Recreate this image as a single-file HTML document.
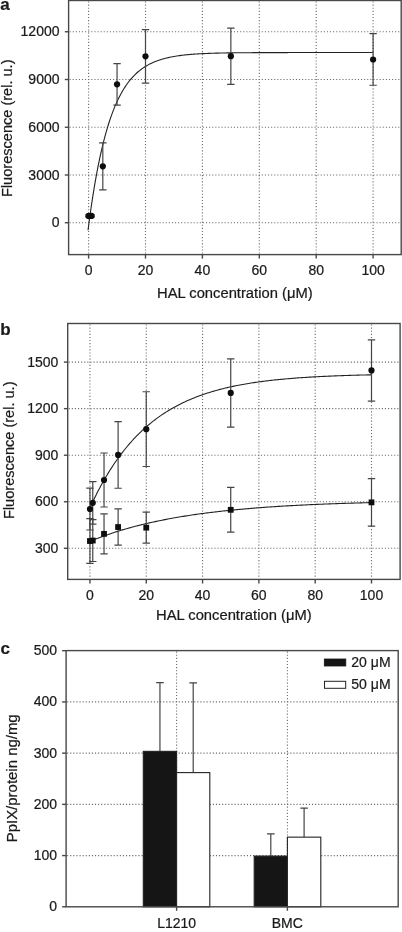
<!DOCTYPE html>
<html><head><meta charset="utf-8"><style>
html,body{margin:0;padding:0;background:#fff;width:402px;height:932px;overflow:hidden}
svg{display:block}
text{font-family:"Liberation Sans", Arial, sans-serif;fill:#1a1a1a;stroke:#1a1a1a;stroke-width:0.22px}
.g{stroke:#6a6a6a;stroke-width:1.1;stroke-dasharray:1.1 2;fill:none}
.t{stroke:#484848;stroke-width:1.4}
.e{stroke:#454545;stroke-width:1.2;fill:none}
.c{stroke:#222;stroke-width:1.1;fill:none}
.p{fill:#0d0d0d}
</style></head><body>
<svg width="402" height="932" viewBox="0 0 402 932">
<line x1="69.6" y1="222.75" x2="400.2" y2="222.75" class="g"/>
<line x1="69.6" y1="175" x2="400.2" y2="175" class="g"/>
<line x1="69.6" y1="127.25" x2="400.2" y2="127.25" class="g"/>
<line x1="69.6" y1="79.5" x2="400.2" y2="79.5" class="g"/>
<line x1="69.6" y1="31.75" x2="400.2" y2="31.75" class="g"/>
<line x1="88.6" y1="1.5" x2="88.6" y2="253.6" class="g"/>
<line x1="145.5" y1="1.5" x2="145.5" y2="253.6" class="g"/>
<line x1="202.4" y1="1.5" x2="202.4" y2="253.6" class="g"/>
<line x1="259.3" y1="1.5" x2="259.3" y2="253.6" class="g"/>
<line x1="316.2" y1="1.5" x2="316.2" y2="253.6" class="g"/>
<line x1="373.1" y1="1.5" x2="373.1" y2="253.6" class="g"/>
<polyline points="88.03,230.20 89.46,219.26 90.90,209.00 92.33,199.36 93.76,190.32 95.19,181.84 96.63,173.88 98.06,166.40 99.49,159.39 100.92,152.81 102.36,146.64 103.79,140.84 105.22,135.41 106.65,130.30 108.09,125.52 109.52,121.02 110.95,116.81 112.38,112.85 113.82,109.14 115.25,105.65 116.68,102.38 118.11,99.31 119.55,96.43 120.98,93.73 122.41,91.19 123.84,88.81 125.28,86.58 126.71,84.49 128.14,82.52 129.57,80.67 131.01,78.94 132.44,77.32 133.87,75.79 135.30,74.36 136.74,73.02 138.17,71.76 139.60,70.57 141.03,69.46 142.47,68.42 143.90,67.44 145.33,66.53 146.76,65.67 148.20,64.86 149.63,64.10 151.06,63.39 152.49,62.72 153.93,62.10 155.36,61.51 156.79,60.96 158.22,60.44 159.66,59.95 161.09,59.50 162.52,59.07 163.95,58.67 165.39,58.29 166.82,57.94 168.25,57.61 169.68,57.29 171.12,57.00 172.55,56.73 173.98,56.47 175.41,56.23 176.85,56.00 178.28,55.79 179.71,55.59 181.14,55.40 182.58,55.23 184.01,55.06 185.44,54.91 186.87,54.76 188.31,54.63 189.74,54.50 191.17,54.38 192.60,54.27 194.04,54.16 195.47,54.06 196.90,53.97 198.33,53.88 199.77,53.80 201.20,53.72 202.63,53.65 204.06,53.58 205.50,53.52 206.93,53.46 208.36,53.40 209.79,53.35 211.23,53.30 212.66,53.25 214.09,53.21 215.52,53.17 216.96,53.13 218.39,53.10 219.82,53.06 221.25,53.03 222.69,53.00 224.12,52.97 225.55,52.95 226.98,52.92 228.42,52.90 229.85,52.88 231.28,52.86 232.71,52.84 234.15,52.82 235.58,52.80 237.01,52.79 238.44,52.77 239.88,52.76 241.31,52.75 242.74,52.74 244.17,52.72 245.61,52.71 247.04,52.70 248.47,52.69 249.90,52.68 251.34,52.68 252.77,52.67 254.20,52.66 255.63,52.65 257.07,52.65 258.50,52.64 259.93,52.64 261.36,52.63 262.80,52.63 264.23,52.62 265.66,52.62 267.09,52.61 268.53,52.61 269.96,52.60 271.39,52.60 272.82,52.60 274.26,52.60 275.69,52.59 277.12,52.59 278.55,52.59 279.99,52.59 281.42,52.58 282.85,52.58 284.28,52.58 285.72,52.58 287.15,52.58 288.58,52.57 290.01,52.57 291.45,52.57 292.88,52.57 294.31,52.57 295.74,52.57 297.18,52.57 298.61,52.57 300.04,52.56 301.47,52.56 302.91,52.56 304.34,52.56 305.77,52.56 307.20,52.56 308.64,52.56 310.07,52.56 311.50,52.56 312.93,52.56 314.37,52.56 315.80,52.56 317.23,52.56 318.66,52.56 320.10,52.56 321.53,52.56 322.96,52.55 324.39,52.55 325.83,52.55 327.26,52.55 328.69,52.55 330.12,52.55 331.56,52.55 332.99,52.55 334.42,52.55 335.85,52.55 337.29,52.55 338.72,52.55 340.15,52.55 341.58,52.55 343.02,52.55 344.45,52.55 345.88,52.55 347.31,52.55 348.75,52.55 350.18,52.55 351.61,52.55 353.04,52.55 354.48,52.55 355.91,52.55 357.34,52.55 358.77,52.55 360.21,52.55 361.64,52.55 363.07,52.55 364.50,52.55 365.94,52.55 367.37,52.55 368.80,52.55 370.23,52.55 371.67,52.55 373.10,52.55" class="c"/>
<path d="M102.82 142.91V189.83M99.12 142.91h7.4M99.12 189.83h7.4" class="e"/>
<path d="M117.05 63.64V105.03M113.35 63.64h7.4M113.35 105.03h7.4" class="e"/>
<path d="M145.5 29.55V83.03M141.8 29.55h7.4M141.8 83.03h7.4" class="e"/>
<path d="M230.85 28.1V84.29M227.15 28.1h7.4M227.15 84.29h7.4" class="e"/>
<path d="M373.1 33.7V85.27M369.4 33.7h7.4M369.4 85.27h7.4" class="e"/>
<path d="M88.6 215.01V216.92M85.1 215.01h7M85.1 216.92h7" class="e"/>
<path d="M91.44 215.01V216.92M87.94 215.01h7M87.94 216.92h7" class="e"/>
<circle cx="88.6" cy="215.97" r="3.1" class="p"/>
<circle cx="91.44" cy="215.97" r="3.1" class="p"/>
<circle cx="102.82" cy="166.37" r="3.1" class="p"/>
<circle cx="117.05" cy="84.34" r="3.1" class="p"/>
<circle cx="145.5" cy="56.29" r="3.1" class="p"/>
<circle cx="230.85" cy="56.19" r="3.1" class="p"/>
<circle cx="373.1" cy="59.49" r="3.1" class="p"/>
<rect x="68.6" y="0.5" width="332.6" height="254.1" fill="none" stroke="#484848" stroke-width="1.4"/>
<line x1="64.8" y1="222.75" x2="68.6" y2="222.75" class="t"/>
<text x="59.5" y="227.25" text-anchor="end" font-size="14">0</text>
<line x1="64.8" y1="175" x2="68.6" y2="175" class="t"/>
<text x="59.5" y="179.5" text-anchor="end" font-size="14">3000</text>
<line x1="64.8" y1="127.25" x2="68.6" y2="127.25" class="t"/>
<text x="59.5" y="131.75" text-anchor="end" font-size="14">6000</text>
<line x1="64.8" y1="79.5" x2="68.6" y2="79.5" class="t"/>
<text x="59.5" y="84" text-anchor="end" font-size="14">9000</text>
<line x1="64.8" y1="31.75" x2="68.6" y2="31.75" class="t"/>
<text x="59.5" y="36.25" text-anchor="end" font-size="14">12000</text>
<line x1="88.6" y1="254.6" x2="88.6" y2="258.6" class="t"/>
<text x="88.6" y="275.2" text-anchor="middle" font-size="14">0</text>
<line x1="145.5" y1="254.6" x2="145.5" y2="258.6" class="t"/>
<text x="145.5" y="275.2" text-anchor="middle" font-size="14">20</text>
<line x1="202.4" y1="254.6" x2="202.4" y2="258.6" class="t"/>
<text x="202.4" y="275.2" text-anchor="middle" font-size="14">40</text>
<line x1="259.3" y1="254.6" x2="259.3" y2="258.6" class="t"/>
<text x="259.3" y="275.2" text-anchor="middle" font-size="14">60</text>
<line x1="316.2" y1="254.6" x2="316.2" y2="258.6" class="t"/>
<text x="316.2" y="275.2" text-anchor="middle" font-size="14">80</text>
<line x1="373.1" y1="254.6" x2="373.1" y2="258.6" class="t"/>
<text x="373.1" y="275.2" text-anchor="middle" font-size="14">100</text>
<text x="157" y="297.8" text-anchor="start" font-size="14" textLength="155.6" lengthAdjust="spacingAndGlyphs">HAL concentration (μM)</text>
<text transform="translate(12,197) rotate(-90)" font-size="14" textLength="137.5" lengthAdjust="spacingAndGlyphs">Fluorescence (rel. u.)</text>
<text x="0.3" y="9.8" font-size="17" font-weight="bold">a</text>
<line x1="68.7" y1="548.3" x2="399.1" y2="548.3" class="g"/>
<line x1="68.7" y1="501.75" x2="399.1" y2="501.75" class="g"/>
<line x1="68.7" y1="455.2" x2="399.1" y2="455.2" class="g"/>
<line x1="68.7" y1="408.65" x2="399.1" y2="408.65" class="g"/>
<line x1="68.7" y1="362.1" x2="399.1" y2="362.1" class="g"/>
<line x1="89.95" y1="324.5" x2="89.95" y2="578.4" class="g"/>
<line x1="146.26" y1="324.5" x2="146.26" y2="578.4" class="g"/>
<line x1="202.57" y1="324.5" x2="202.57" y2="578.4" class="g"/>
<line x1="258.88" y1="324.5" x2="258.88" y2="578.4" class="g"/>
<line x1="315.19" y1="324.5" x2="315.19" y2="578.4" class="g"/>
<line x1="371.5" y1="324.5" x2="371.5" y2="578.4" class="g"/>
<polyline points="89.95,507.79 91.36,504.71 92.78,501.70 94.19,498.77 95.61,495.90 97.02,493.09 98.44,490.35 99.85,487.68 101.27,485.06 102.68,482.50 104.10,480.01 105.51,477.57 106.93,475.18 108.34,472.85 109.76,470.58 111.17,468.35 112.59,466.18 114.00,464.06 115.42,461.98 116.83,459.95 118.25,457.97 119.66,456.04 121.08,454.15 122.49,452.30 123.91,450.49 125.32,448.73 126.74,447.01 128.15,445.32 129.57,443.68 130.98,442.07 132.39,440.50 133.81,438.96 135.22,437.46 136.64,435.99 138.05,434.56 139.47,433.16 140.88,431.80 142.30,430.46 143.71,429.15 145.13,427.88 146.54,426.63 147.96,425.42 149.37,424.23 150.79,423.06 152.20,421.93 153.62,420.82 155.03,419.73 156.45,418.67 157.86,417.64 159.28,416.63 160.69,415.64 162.11,414.67 163.52,413.73 164.94,412.80 166.35,411.90 167.77,411.02 169.18,410.16 170.59,409.32 172.01,408.50 173.42,407.70 174.84,406.91 176.25,406.15 177.67,405.40 179.08,404.67 180.50,403.95 181.91,403.26 183.33,402.57 184.74,401.91 186.16,401.25 187.57,400.62 188.99,400.00 190.40,399.39 191.82,398.79 193.23,398.21 194.65,397.65 196.06,397.09 197.48,396.55 198.89,396.02 200.31,395.51 201.72,395.00 203.14,394.51 204.55,394.03 205.97,393.56 207.38,393.10 208.80,392.65 210.21,392.21 211.62,391.78 213.04,391.36 214.45,390.95 215.87,390.55 217.28,390.16 218.70,389.77 220.11,389.40 221.53,389.03 222.94,388.68 224.36,388.33 225.77,387.99 227.19,387.66 228.60,387.33 230.02,387.01 231.43,386.70 232.85,386.40 234.26,386.10 235.68,385.81 237.09,385.53 238.51,385.25 239.92,384.98 241.34,384.72 242.75,384.46 244.17,384.21 245.58,383.96 247.00,383.72 248.41,383.49 249.83,383.26 251.24,383.03 252.65,382.82 254.07,382.60 255.48,382.39 256.90,382.19 258.31,381.99 259.73,381.79 261.14,381.60 262.56,381.41 263.97,381.23 265.39,381.05 266.80,380.88 268.22,380.71 269.63,380.54 271.05,380.38 272.46,380.22 273.88,380.07 275.29,379.92 276.71,379.77 278.12,379.63 279.54,379.48 280.95,379.35 282.37,379.21 283.78,379.08 285.20,378.95 286.61,378.82 288.03,378.70 289.44,378.58 290.86,378.46 292.27,378.35 293.68,378.24 295.10,378.13 296.51,378.02 297.93,377.92 299.34,377.82 300.76,377.72 302.17,377.62 303.59,377.52 305.00,377.43 306.42,377.34 307.83,377.25 309.25,377.16 310.66,377.08 312.08,377.00 313.49,376.91 314.91,376.84 316.32,376.76 317.74,376.68 319.15,376.61 320.57,376.54 321.98,376.47 323.40,376.40 324.81,376.33 326.23,376.26 327.64,376.20 329.06,376.14 330.47,376.08 331.88,376.02 333.30,375.96 334.71,375.90 336.13,375.84 337.54,375.79 338.96,375.74 340.37,375.68 341.79,375.63 343.20,375.58 344.62,375.53 346.03,375.49 347.45,375.44 348.86,375.40 350.28,375.35 351.69,375.31 353.11,375.27 354.52,375.22 355.94,375.18 357.35,375.14 358.77,375.11 360.18,375.07 361.60,375.03 363.01,375.00 364.43,374.96 365.84,374.93 367.26,374.89 368.67,374.86 370.09,374.83 371.50,374.80" class="c"/>
<polyline points="89.95,541.32 91.36,540.74 92.78,540.17 94.19,539.61 95.61,539.06 97.02,538.51 98.44,537.97 99.85,537.44 101.27,536.92 102.68,536.40 104.10,535.89 105.51,535.39 106.93,534.90 108.34,534.41 109.76,533.93 111.17,533.46 112.59,532.99 114.00,532.53 115.42,532.07 116.83,531.62 118.25,531.18 119.66,530.75 121.08,530.32 122.49,529.89 123.91,529.48 125.32,529.07 126.74,528.66 128.15,528.26 129.57,527.87 130.98,527.48 132.39,527.09 133.81,526.71 135.22,526.34 136.64,525.97 138.05,525.61 139.47,525.25 140.88,524.90 142.30,524.55 143.71,524.21 145.13,523.87 146.54,523.54 147.96,523.21 149.37,522.89 150.79,522.57 152.20,522.25 153.62,521.94 155.03,521.64 156.45,521.34 157.86,521.04 159.28,520.75 160.69,520.46 162.11,520.17 163.52,519.89 164.94,519.61 166.35,519.34 167.77,519.07 169.18,518.80 170.59,518.54 172.01,518.28 173.42,518.03 174.84,517.78 176.25,517.53 177.67,517.29 179.08,517.05 180.50,516.81 181.91,516.57 183.33,516.34 184.74,516.12 186.16,515.89 187.57,515.67 188.99,515.45 190.40,515.24 191.82,515.03 193.23,514.82 194.65,514.61 196.06,514.41 197.48,514.21 198.89,514.01 200.31,513.82 201.72,513.62 203.14,513.43 204.55,513.25 205.97,513.06 207.38,512.88 208.80,512.70 210.21,512.53 211.62,512.35 213.04,512.18 214.45,512.01 215.87,511.85 217.28,511.68 218.70,511.52 220.11,511.36 221.53,511.20 222.94,511.05 224.36,510.89 225.77,510.74 227.19,510.59 228.60,510.45 230.02,510.30 231.43,510.16 232.85,510.02 234.26,509.88 235.68,509.74 237.09,509.61 238.51,509.47 239.92,509.34 241.34,509.21 242.75,509.09 244.17,508.96 245.58,508.84 247.00,508.71 248.41,508.59 249.83,508.48 251.24,508.36 252.65,508.24 254.07,508.13 255.48,508.02 256.90,507.91 258.31,507.80 259.73,507.69 261.14,507.58 262.56,507.48 263.97,507.37 265.39,507.27 266.80,507.17 268.22,507.07 269.63,506.98 271.05,506.88 272.46,506.79 273.88,506.69 275.29,506.60 276.71,506.51 278.12,506.42 279.54,506.33 280.95,506.24 282.37,506.16 283.78,506.07 285.20,505.99 286.61,505.91 288.03,505.83 289.44,505.75 290.86,505.67 292.27,505.59 293.68,505.51 295.10,505.44 296.51,505.36 297.93,505.29 299.34,505.22 300.76,505.15 302.17,505.08 303.59,505.01 305.00,504.94 306.42,504.87 307.83,504.80 309.25,504.74 310.66,504.67 312.08,504.61 313.49,504.55 314.91,504.48 316.32,504.42 317.74,504.36 319.15,504.30 320.57,504.24 321.98,504.19 323.40,504.13 324.81,504.07 326.23,504.02 327.64,503.96 329.06,503.91 330.47,503.86 331.88,503.80 333.30,503.75 334.71,503.70 336.13,503.65 337.54,503.60 338.96,503.55 340.37,503.50 341.79,503.46 343.20,503.41 344.62,503.36 346.03,503.32 347.45,503.27 348.86,503.23 350.28,503.19 351.69,503.14 353.11,503.10 354.52,503.06 355.94,503.02 357.35,502.98 358.77,502.94 360.18,502.90 361.60,502.86 363.01,502.82 364.43,502.78 365.84,502.75 367.26,502.71 368.67,502.67 370.09,502.64 371.50,502.60" class="c"/>
<path d="M89.95 488.09V529.99M86.25 488.09h7.4M86.25 529.99h7.4" class="e"/>
<path d="M92.77 481.58V524.09M89.07 481.58h7.4M89.07 524.09h7.4" class="e"/>
<path d="M104.03 453.02V507.02M100.33 453.02h7.4M100.33 507.02h7.4" class="e"/>
<path d="M118.11 421.53V488.25M114.41 421.53h7.4M114.41 488.25h7.4" class="e"/>
<path d="M146.26 391.73V466.52M142.56 391.73h7.4M142.56 466.52h7.4" class="e"/>
<path d="M230.73 358.84V427.11M227.03 358.84h7.4M227.03 427.11h7.4" class="e"/>
<path d="M371.5 339.91V401.04M367.8 339.91h7.4M367.8 401.04h7.4" class="e"/>
<path d="M89.95 518.66V563.35M86.25 518.66h7.4M86.25 563.35h7.4" class="e"/>
<path d="M92.77 519.59V561.49M89.07 519.59h7.4M89.07 561.49h7.4" class="e"/>
<path d="M104.03 513.85V553.89M100.33 513.85h7.4M100.33 553.89h7.4" class="e"/>
<path d="M118.11 508.89V545.2M114.41 508.89h7.4M114.41 545.2h7.4" class="e"/>
<path d="M146.26 512.14V543.18M142.56 512.14h7.4M142.56 543.18h7.4" class="e"/>
<path d="M230.73 487.47V532.16M227.03 487.47h7.4M227.03 532.16h7.4" class="e"/>
<path d="M371.5 478.63V526.11M367.8 478.63h7.4M367.8 526.11h7.4" class="e"/>
<circle cx="89.95" cy="509.04" r="3.1" class="p"/>
<circle cx="92.77" cy="502.83" r="3.1" class="p"/>
<circle cx="104.03" cy="480.02" r="3.1" class="p"/>
<circle cx="118.11" cy="454.89" r="3.1" class="p"/>
<circle cx="146.26" cy="429.13" r="3.1" class="p"/>
<circle cx="230.73" cy="392.97" r="3.1" class="p"/>
<circle cx="371.5" cy="370.47" r="3.1" class="p"/>
<rect x="87.05" y="538.11" width="5.8" height="5.8" class="p"/>
<rect x="89.87" y="537.64" width="5.8" height="5.8" class="p"/>
<rect x="101.13" y="530.97" width="5.8" height="5.8" class="p"/>
<rect x="115.2" y="524.14" width="5.8" height="5.8" class="p"/>
<rect x="143.36" y="524.76" width="5.8" height="5.8" class="p"/>
<rect x="227.83" y="506.92" width="5.8" height="5.8" class="p"/>
<rect x="368.6" y="499.47" width="5.8" height="5.8" class="p"/>
<rect x="67.7" y="323.5" width="332.4" height="255.9" fill="none" stroke="#484848" stroke-width="1.4"/>
<line x1="63.9" y1="548.3" x2="67.7" y2="548.3" class="t"/>
<text x="58.4" y="552.8" text-anchor="end" font-size="14">300</text>
<line x1="63.9" y1="501.75" x2="67.7" y2="501.75" class="t"/>
<text x="58.4" y="506.25" text-anchor="end" font-size="14">600</text>
<line x1="63.9" y1="455.2" x2="67.7" y2="455.2" class="t"/>
<text x="58.4" y="459.7" text-anchor="end" font-size="14">900</text>
<line x1="63.9" y1="408.65" x2="67.7" y2="408.65" class="t"/>
<text x="58.4" y="413.15" text-anchor="end" font-size="14">1200</text>
<line x1="63.9" y1="362.1" x2="67.7" y2="362.1" class="t"/>
<text x="58.4" y="366.6" text-anchor="end" font-size="14">1500</text>
<line x1="89.95" y1="579.4" x2="89.95" y2="583.5" class="t"/>
<text x="89.95" y="600.1" text-anchor="middle" font-size="14">0</text>
<line x1="146.26" y1="579.4" x2="146.26" y2="583.5" class="t"/>
<text x="146.26" y="600.1" text-anchor="middle" font-size="14">20</text>
<line x1="202.57" y1="579.4" x2="202.57" y2="583.5" class="t"/>
<text x="202.57" y="600.1" text-anchor="middle" font-size="14">40</text>
<line x1="258.88" y1="579.4" x2="258.88" y2="583.5" class="t"/>
<text x="258.88" y="600.1" text-anchor="middle" font-size="14">60</text>
<line x1="315.19" y1="579.4" x2="315.19" y2="583.5" class="t"/>
<text x="315.19" y="600.1" text-anchor="middle" font-size="14">80</text>
<line x1="371.5" y1="579.4" x2="371.5" y2="583.5" class="t"/>
<text x="371.5" y="600.1" text-anchor="middle" font-size="14">100</text>
<text x="156" y="620" text-anchor="start" font-size="14" textLength="155.6" lengthAdjust="spacingAndGlyphs">HAL concentration (μM)</text>
<text transform="translate(14.2,519) rotate(-90)" font-size="14" textLength="137.5" lengthAdjust="spacingAndGlyphs">Fluorescence (rel. u.)</text>
<text x="0.3" y="335.4" font-size="17" font-weight="bold">b</text>
<line x1="67.1" y1="855.58" x2="397.2" y2="855.58" class="g"/>
<line x1="67.1" y1="804.36" x2="397.2" y2="804.36" class="g"/>
<line x1="67.1" y1="753.14" x2="397.2" y2="753.14" class="g"/>
<line x1="67.1" y1="701.92" x2="397.2" y2="701.92" class="g"/>
<line x1="176.6" y1="651.6" x2="176.6" y2="905.8" class="g"/>
<line x1="287.4" y1="651.6" x2="287.4" y2="905.8" class="g"/>
<path d="M159.95 751.35V682.71M156.15 682.71h7.6" class="e"/>
<rect x="143.3" y="751.35" width="33.3" height="155.45" fill="#151515" stroke="#222" stroke-width="1.1"/>
<path d="M193.2 772.6V682.97M189.4 682.97h7.6" class="e"/>
<rect x="176.6" y="772.6" width="33.2" height="134.2" fill="#fff" stroke="#222" stroke-width="1.1"/>
<path d="M270.8 856.09V833.81M267 833.81h7.6" class="e"/>
<rect x="254.2" y="856.09" width="33.2" height="50.71" fill="#151515" stroke="#222" stroke-width="1.1"/>
<path d="M304.1 837.14V808.2M300.3 808.2h7.6" class="e"/>
<rect x="287.4" y="837.14" width="33.4" height="69.66" fill="#fff" stroke="#222" stroke-width="1.1"/>
<rect x="66.1" y="650.6" width="332.1" height="256.2" fill="none" stroke="#484848" stroke-width="1.4"/>
<line x1="62.1" y1="906.8" x2="66.1" y2="906.8" class="t"/>
<text x="57" y="911.3" text-anchor="end" font-size="14">0</text>
<line x1="62.1" y1="855.58" x2="66.1" y2="855.58" class="t"/>
<text x="57" y="860.08" text-anchor="end" font-size="14">100</text>
<line x1="62.1" y1="804.36" x2="66.1" y2="804.36" class="t"/>
<text x="57" y="808.86" text-anchor="end" font-size="14">200</text>
<line x1="62.1" y1="753.14" x2="66.1" y2="753.14" class="t"/>
<text x="57" y="757.64" text-anchor="end" font-size="14">300</text>
<line x1="62.1" y1="701.92" x2="66.1" y2="701.92" class="t"/>
<text x="57" y="706.42" text-anchor="end" font-size="14">400</text>
<line x1="62.1" y1="650.7" x2="66.1" y2="650.7" class="t"/>
<text x="57" y="655.2" text-anchor="end" font-size="14">500</text>
<line x1="176.6" y1="906.8" x2="176.6" y2="910.8" class="t"/>
<line x1="287.4" y1="906.8" x2="287.4" y2="910.8" class="t"/>
<text x="176.6" y="928.4" text-anchor="middle" font-size="14">L1210</text>
<text x="287.3" y="928.2" text-anchor="middle" font-size="14">BMC</text>
<text transform="translate(16.7,842.3) rotate(-90)" font-size="14" textLength="128" lengthAdjust="spacingAndGlyphs">PpIX/protein ng/mg</text>
<text x="0.5" y="654.4" font-size="17" font-weight="bold">c</text>
<rect x="324.3" y="659" width="21.5" height="7" fill="#151515" stroke="#151515" stroke-width="0.8"/>
<rect x="324.5" y="681.3" width="21.2" height="7" fill="#fff" stroke="#222" stroke-width="1"/>
<text x="351.3" y="666.6" text-anchor="start" font-size="14" textLength="39.3" lengthAdjust="spacingAndGlyphs">20 μM</text>
<text x="351.3" y="688.7" text-anchor="start" font-size="14" textLength="39.3" lengthAdjust="spacingAndGlyphs">50 μM</text>
</svg>
</body></html>
